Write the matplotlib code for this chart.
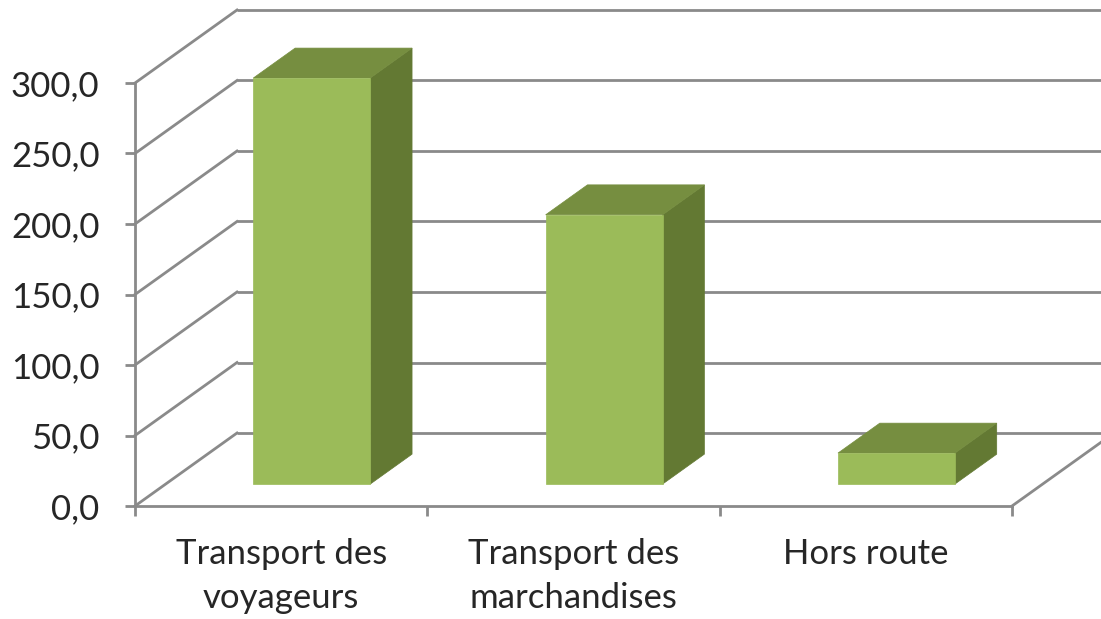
import matplotlib
matplotlib.use("Agg")
import matplotlib.pyplot as plt
from matplotlib.patches import Polygon

# ---- data ----
categories = ["Transport des\nvoyageurs", "Transport des\nmarchandises", "Hors route"]
values = [288.0, 191.0, 22.0]
y_ticks = [0, 50, 100, 150, 200, 250, 300]

# ---- style ----
FRONT = "#9BBB59"
TOP = "#768E40"
SIDE = "#637933"
GRID = "#8A8A8A"
TEXT = "#262626"
FONT = ["Lato", "DejaVu Sans"]

W, H = 1101, 619
fig = plt.figure(figsize=(W / 100, H / 100), dpi=100)
ax = fig.add_axes([135 / W, (H - 506) / H, 877 / W, 423 / H])
ax.set_xlim(0, 3)
ax.set_ylim(0, 300)

# oblique depth offset (in data units)
DX = 102 / (877 / 3)
DY = 73 / (423 / 300)

def proj(x, v, d):
    return (x + d * DX, v + d * DY)

lw = 2.0
# back wall gridlines + left wall diagonals
for t in y_ticks:
    x0, y0 = proj(0, t, 1)
    x1, y1 = proj(3, t, 1)
    ax.plot([x0, x1], [y0, y1], color=GRID, lw=lw, clip_on=False, zorder=1,
            solid_capstyle="butt")
    ax.plot([0, x0], [t, y0], color=GRID, lw=lw, clip_on=False, zorder=1)
# floor right edge
xr, yr = proj(3, 0, 1)
ax.plot([3, xr], [0, yr], color=GRID, lw=lw, clip_on=False, zorder=1)

# bars
d0, d1 = 0.30, 0.71
bw = 0.40
for i, v in enumerate(values):
    xa = i + 0.5 - bw / 2
    xb = i + 0.5 + bw / 2
    front = [proj(xa, 0, d0), proj(xb, 0, d0), proj(xb, v, d0), proj(xa, v, d0)]
    top = [proj(xa, v, d0), proj(xb, v, d0), proj(xb, v, d1), proj(xa, v, d1)]
    side = [proj(xb, 0, d0), proj(xb, 0, d1), proj(xb, v, d1), proj(xb, v, d0)]
    for pts, c in ((side, SIDE), (top, TOP), (front, FRONT)):
        ax.add_patch(Polygon(pts, closed=True, facecolor=c, edgecolor=c, lw=0.5,
                             clip_on=False, zorder=3))

# axes / spines
for s in ("top", "right"):
    ax.spines[s].set_visible(False)
for s in ("left", "bottom"):
    ax.spines[s].set_color(GRID)
    ax.spines[s].set_linewidth(lw)
ax.patch.set_alpha(0)

ax.set_yticks(y_ticks)
ax.set_yticklabels([f"{t:.1f}".replace(".", ",") for t in y_ticks],
                   fontfamily=FONT, fontsize=25, color=TEXT)
ax.tick_params(axis="y", direction="out", length=7.5, width=lw, color=GRID, pad=18)

ax.set_xticks([0, 1, 2, 3])
ax.set_xticklabels([])
ax.set_xticks([0.5, 1.5, 2.5], minor=True)
ax.set_xticklabels(categories, minor=True, fontfamily=FONT, fontsize=25, color=TEXT,
                   linespacing=1.45, va="top")
ax.tick_params(axis="x", which="major", direction="out", length=7.5, width=lw, color=GRID)
ax.tick_params(axis="x", which="minor", length=0, pad=23)

fig.savefig("out.png", dpi=100)
